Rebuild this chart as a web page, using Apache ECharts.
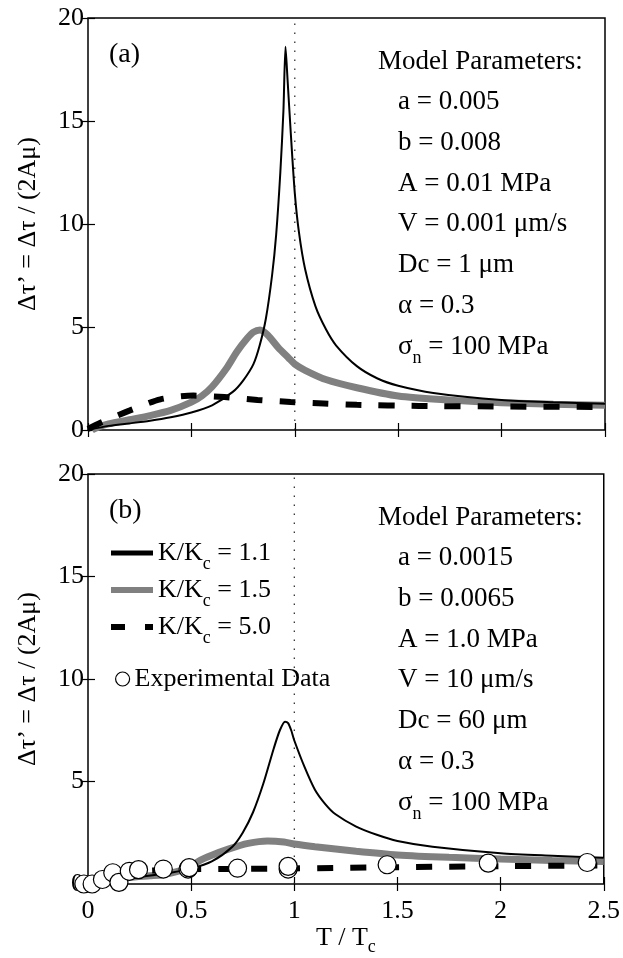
<!DOCTYPE html>
<html><head><meta charset="utf-8">
<script src="https://cdn.jsdelivr.net/npm/echarts@6/dist/echarts.min.js"></script>
<style>html,body{margin:0;padding:0;background:#fff}#c{width:623px;height:958px}</style>
</head><body><div id="c"></div>
<script>
const FONT = 'Liberation Serif';
// axes
const xMin = 0, xMax = 2.5, xStep = 0.5;
const yMin = 0, yMax = 20, yStep = 5;
const refLineX = 1;
const refLineY = [0, 20];

// series names
const names = ['K/Kc = 1.1', 'K/Kc = 1.5', 'K/Kc = 5.0', 'Experimental Data'];

// panel (a)
const aBlackX = [0, 0.1, 0.2, 0.3, 0.4, 0.5, 0.6, 0.7, 0.75, 0.8, 0.83, 0.86, 0.89, 0.91, 0.93, 0.945, 0.955, 0.965, 0.98, 1.0, 1.02, 1.05, 1.1, 1.15, 1.2, 1.3, 1.4, 1.5, 1.67, 2.0, 2.25, 2.5];
const aBlackY = [0, 0.2, 0.32, 0.45, 0.62, 0.85, 1.2, 1.85, 2.4, 3.2, 4.1, 5.4, 7.5, 9.5, 12.5, 15.5, 18.6, 17.0, 14.5, 11.5, 9.6, 7.8, 6.0, 4.9, 4.1, 3.1, 2.5, 2.15, 1.8, 1.46, 1.35, 1.28];
const aGrayX = [0.02, 0.05, 0.1, 0.2, 0.3, 0.4, 0.5, 0.55, 0.6, 0.67, 0.72, 0.77, 0.8, 0.832, 0.87, 0.92, 0.97, 1.0, 1.05, 1.15, 1.3, 1.5, 1.75, 2.0, 2.25, 2.5];
const aGrayY = [0, 0.15, 0.3, 0.5, 0.7, 0.95, 1.35, 1.65, 2.1, 3.0, 3.8, 4.45, 4.75, 4.85, 4.6, 4.0, 3.5, 3.2, 2.9, 2.45, 2.05, 1.65, 1.45, 1.32, 1.25, 1.2];
const aDashX = [0, 0.06, 0.2, 0.35, 0.51, 0.66, 0.82, 0.98, 1.14, 1.3, 1.6, 2.0, 2.5];
const aDashY = [0.05, 0.35, 0.94, 1.49, 1.67, 1.6, 1.46, 1.36, 1.29, 1.22, 1.17, 1.14, 1.12];

// panel (b)
const bBlackX = [0, 0.2, 0.4, 0.5, 0.6, 0.7, 0.75, 0.8, 0.85, 0.9, 0.93, 0.955, 0.97, 0.985, 1.0, 1.05, 1.1, 1.15, 1.2, 1.3, 1.4, 1.5, 1.67, 2.0, 2.25, 2.5];
const bBlackY = [0, 0.28, 0.55, 0.75, 1.1, 1.82, 2.5, 3.5, 4.9, 6.6, 7.5, 7.92, 7.85, 7.5, 7.0, 5.7, 4.6, 3.9, 3.4, 2.8, 2.4, 2.1, 1.82, 1.5, 1.38, 1.28];
const bGrayX = [0, 0.1, 0.2, 0.3, 0.36, 0.43, 0.5, 0.534, 0.6, 0.68, 0.776, 0.87, 0.95, 1.0, 1.1, 1.3, 1.5, 1.75, 2.0, 2.25, 2.5];
const bGrayY = [0, 0.2, 0.32, 0.4, 0.45, 0.6, 0.85, 1.1, 1.4, 1.7, 1.98, 2.1, 2.05, 1.95, 1.82, 1.6, 1.42, 1.3, 1.22, 1.15, 1.1];
const bDashX = [0, 0.1, 0.2, 0.3, 0.5, 0.75, 1.0, 1.5, 2.0, 2.5];
const bDashY = [0, 0.35, 0.55, 0.65, 0.72, 0.74, 0.76, 0.82, 0.87, 0.9];
const expX = [-0.02, 0.02, 0.07, 0.12, 0.15, 0.2, 0.245, 0.365, 0.485, 0.49, 0.725, 0.97, 0.97, 1.45, 1.94, 2.42];
const expY = [0.0, 0.0, 0.22, 0.55, 0.08, 0.62, 0.7, 0.73, 0.73, 0.8, 0.77, 0.73, 0.86, 0.94, 1.02, 1.05];

// annotation texts
const panelLabels = ['(a)', '(b)'];
const paramTitle = 'Model Parameters:';
const paramsA = ['a = 0.005', 'b = 0.008', 'A = 0.01 MPa', 'V = 0.001 μm/s', 'Dc = 1 μm', 'α = 0.3', '{n|σ}{s|n}{n| = 100 MPa}'];
const paramsB = ['a = 0.0015', 'b = 0.0065', 'A = 1.0 MPa', 'V = 10 μm/s', 'Dc = 60 μm', 'α = 0.3', '{n|σ}{s|n}{n| = 100 MPa}'];
const yName = 'Δτ’ = Δτ / (2Aμ)';

const zip = (xs, ys) => xs.map((x, i) => [x, ys[i]]);
const FS = 26;
const PFS = 27;

const grids = [
  {left: 88, top: 18, width: 517, height: 412},
  {left: 88, top: 474, width: 517, height: 410}
];

function xAx(gi, showLabels) {
  return [{
    type: 'value', gridIndex: gi, min: xMin, max: xMax, interval: xStep,
    axisLine: {show: false}, splitLine: {show: false},
    axisTick: {inside: true, length: 7, lineStyle: {color: '#000', width: 1.2}},
    axisLabel: {show: showLabels, color: '#000', fontFamily: FONT, fontSize: FS, margin: 14,
      formatter: v => String(v)},
    name: showLabels ? '{n|T / T}{s|c}' : '', nameLocation: 'middle', nameGap: 29,
    nameTextStyle: {rich: {
      n: {fontFamily: FONT, fontSize: FS, color: '#000', lineHeight: 36},
      s: {fontFamily: FONT, fontSize: 18, color: '#000', lineHeight: 14, verticalAlign: 'bottom'}
    }}
  }, {
    type: 'value', gridIndex: gi, min: xMin, max: xMax, interval: xStep, position: 'top',
    axisLine: {show: false}, splitLine: {show: false}, axisLabel: {show: false},
    axisTick: {inside: true, length: 7, lineStyle: {color: '#000', width: 1.2}}
  }];
}
function yAx(gi) {
  return [{
    type: 'value', gridIndex: gi, min: yMin, max: yMax, interval: yStep,
    axisLine: {show: false}, splitLine: {show: false},
    axisTick: {inside: true, length: 7, lineStyle: {color: '#000', width: 1.2}},
    axisLabel: {color: '#000', fontFamily: FONT, fontSize: FS, margin: 4},
    name: yName, nameLocation: 'middle', nameGap: 47,
    nameTextStyle: {fontFamily: FONT, fontSize: FS, color: '#000'}
  }, {
    type: 'value', gridIndex: gi, min: yMin, max: yMax, interval: yStep, position: 'right',
    axisLine: {show: false}, splitLine: {show: false}, axisLabel: {show: false},
    axisTick: {inside: true, length: 7, lineStyle: {color: '#000', width: 1.2}}
  }];
}

function lineSeries(name, gi, xs, ys, style, z) {
  return {
    type: 'line', name, xAxisIndex: gi * 2, yAxisIndex: gi * 2, data: zip(xs, ys),
    showSymbol: false, symbol: 'none', smooth: 0.25, clip: true,
    itemStyle: {color: style.color},
    lineStyle: style, z, silent: true, animation: false
  };
}
const blackStyle = {color: '#000', width: 2};
const grayStyle = {color: '#808080', width: 7};
const dashStyle = {color: '#000', width: 6, type: [16, 17], cap: 'butt'};
const refStyle = {color: '#222', width: 1.2, type: [1.5, 7.5]};

const series = [];
[0, 1].forEach(gi => {
  series.push({
    type: 'line', xAxisIndex: gi * 2, yAxisIndex: gi * 2,
    data: [[refLineX, refLineY[0]], [refLineX, refLineY[1]]],
    showSymbol: false, symbol: 'none', lineStyle: refStyle, z: 1, silent: true, animation: false
  });
});
series.push(lineSeries(names[1], 0, aGrayX, aGrayY, grayStyle, 2));
series.push(lineSeries(names[2], 0, aDashX, aDashY, dashStyle, 3));
series.push(lineSeries(names[0], 0, aBlackX, aBlackY, blackStyle, 4));
series.push(lineSeries(names[1], 1, bGrayX, bGrayY, grayStyle, 2));
series.push(lineSeries(names[2], 1, bDashX, bDashY, dashStyle, 3));
series.push(lineSeries(names[0], 1, bBlackX, bBlackY, blackStyle, 4));
series.push({
  type: 'scatter', name: names[3], xAxisIndex: 2, yAxisIndex: 2, data: zip(expX, expY),
  symbol: 'circle', symbolSize: 18, clip: false, z: 5, silent: true, animation: false,
  itemStyle: {color: '#fff', borderColor: '#000', borderWidth: 1.2, opacity: 1}
});

const legendRich = {
  n: {fontFamily: FONT, fontSize: FS, color: '#000', lineHeight: 40},
  s: {fontFamily: FONT, fontSize: 18, color: '#000', lineHeight: 14, verticalAlign: 'bottom'}
};
const legendLabel = name => {
  const m = name.match(/^K\/Kc(.*)$/);
  return m ? '{n|K/K}{s|c}{n|' + m[1] + '}' : name;
};
const hiddenSym = {color: 'rgba(0,0,0,0)', borderColor: 'rgba(0,0,0,0)', borderWidth: 0};

// graphic texts
const graphic = [];
const panelTops = [18, 474];
panelLabels.forEach((t, i) => {
  graphic.push({type: 'text', x: 109, y: panelTops[i] + 37, silent: true,
    style: {text: t, font: '28px "' + FONT + '"', fill: '#000', verticalAlign: 'middle'}});
});
[paramsA, paramsB].forEach((list, i) => {
  const top = panelTops[i];
  graphic.push({type: 'text', x: 378, y: top + 44, silent: true,
    style: {text: paramTitle, font: PFS + 'px "' + FONT + '"', fill: '#000', verticalAlign: 'middle'}});
  list.forEach((t, j) => {
    const isRich = t.indexOf('{') === 0;
    graphic.push({type: 'text', x: 398, y: top + 84 + j * 40.8, silent: true,
      style: isRich ? {
        text: t, verticalAlign: 'middle', fill: '#000',
        rich: {
          n: {fontFamily: FONT, fontSize: PFS, fill: '#000', lineHeight: 40},
          s: {fontFamily: FONT, fontSize: 18, fill: '#000', lineHeight: 14, verticalAlign: 'bottom'}
        }
      } : {text: t, font: PFS + 'px "' + FONT + '"', fill: '#000', verticalAlign: 'middle'}});
  });
});

const chart = echarts.init(document.getElementById('c'), null, {renderer: 'canvas'});
chart.setOption({
  backgroundColor: '#fff',
  animation: false,
  grid: grids.map(g => Object.assign({show: true, borderColor: '#000', borderWidth: 1.5, backgroundColor: 'transparent'}, g)),
  xAxis: [...xAx(0, false), ...xAx(1, true)],
  yAxis: [...yAx(0), ...yAx(1)],
  legend: [{
    orient: 'vertical', left: 108, top: 537, padding: 0, itemGap: 1,
    itemWidth: 42, itemHeight: 40, selectedMode: false,
    data: [
      {name: names[0], itemStyle: hiddenSym, lineStyle: {color: '#000', width: 5, type: 'solid'}},
      {name: names[1], itemStyle: hiddenSym, lineStyle: {color: '#808080', width: 6, type: 'solid'}},
      {name: names[2], itemStyle: hiddenSym, lineStyle: {color: '#000', width: 6, type: [14, 20], cap: 'butt'}}
    ],
    formatter: legendLabel,
    textStyle: {rich: legendRich, padding: [0, 0, 0, 0]}
  }, {
    orient: 'vertical', left: 115, top: 664, padding: 0,
    itemWidth: 14, itemHeight: 14, selectedMode: false,
    data: [{name: names[3], itemStyle: {color: '#fff', borderColor: '#000', borderWidth: 1.2, opacity: 1}}],
    textStyle: {fontFamily: FONT, fontSize: FS, color: '#000', lineHeight: 30}
  }],
  graphic,
  series
});
</script></body></html>
